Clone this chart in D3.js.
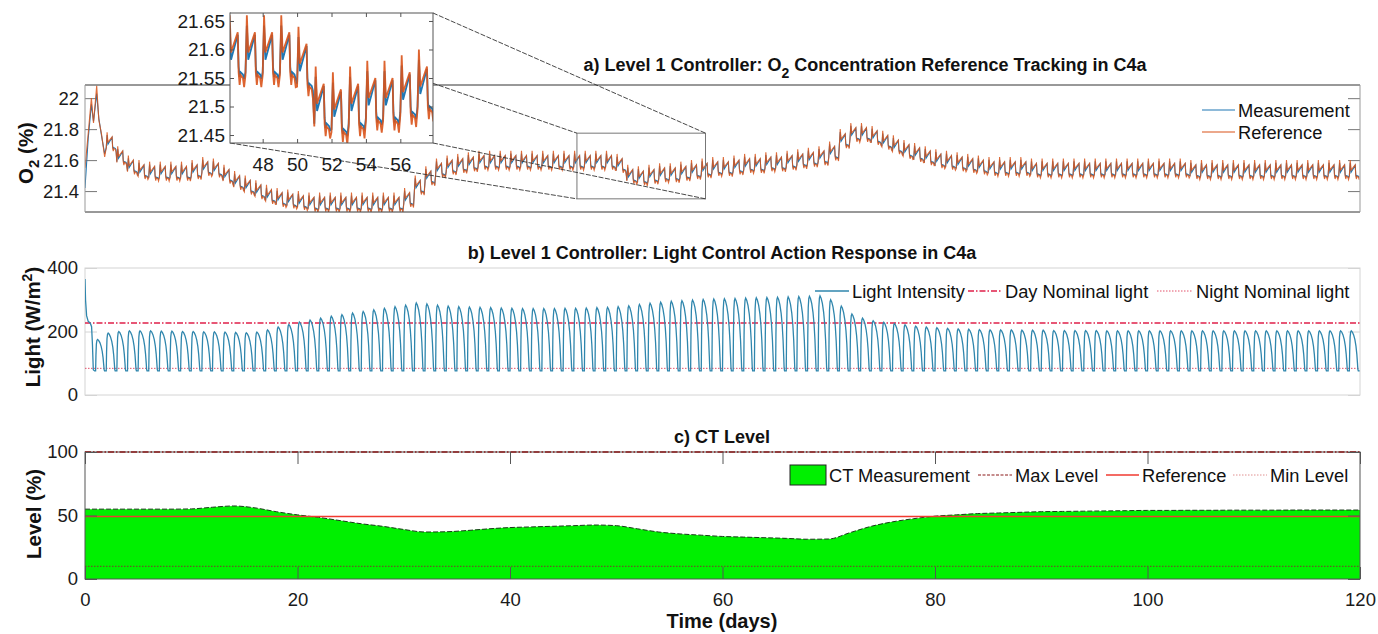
<!DOCTYPE html>
<html><head><meta charset="utf-8">
<script src="https://cdn.jsdelivr.net/npm/d3@7"></script>
<style>
body{margin:0;background:#fff;}
svg{display:block;font-family:"Liberation Sans",Arial,sans-serif;}
</style>
</head><body>
<svg id="chart" width="1378" height="634"></svg>
<script>
// ---------------- DATA ----------------
// Panel a: O2 concentration (%). Early transient (days 0-2), then daily pattern around a daily level.
const o2EarlyTime = [0, 0.3, 0.6, 0.8, 1.1, 1.3, 1.55, 1.85, 2.0];
const o2EarlyRef  = [21.55, 21.77, 22.00, 21.84, 22.08, 21.86, 21.77, 21.62, 21.68];
const o2EarlyMeas = [21.42, 21.74, 21.96, 21.85, 22.03, 21.87, 21.76, 21.64, 21.68];
const o2FirstDay = 2;
const o2DailyLevel = [
  21.72, 21.63, 21.57, 21.54, 21.53, 21.53, 21.53, 21.53, 21.54, 21.56,
  21.55, 21.51, 21.47, 21.44, 21.41, 21.38, 21.36, 21.35, 21.34, 21.33,
  21.33, 21.33, 21.33, 21.33, 21.33, 21.33, 21.33, 21.33, 21.36, 21.44,
  21.50, 21.55, 21.57, 21.58, 21.59, 21.60, 21.60, 21.60, 21.60, 21.60,
  21.60, 21.60, 21.60, 21.60, 21.60, 21.60, 21.60, 21.60, 21.58, 21.51,
  21.50, 21.51, 21.52, 21.52, 21.53, 21.54, 21.55, 21.56, 21.56, 21.57,
  21.58, 21.58, 21.59, 21.59, 21.60, 21.61, 21.62, 21.63, 21.66, 21.74,
  21.78, 21.78, 21.76, 21.73, 21.70, 21.67, 21.65, 21.63, 21.61, 21.60,
  21.59, 21.58, 21.57, 21.56, 21.56, 21.56, 21.56, 21.55, 21.55, 21.55,
  21.55, 21.55, 21.55, 21.55, 21.55, 21.55, 21.55, 21.55, 21.55, 21.55,
  21.55, 21.55, 21.54, 21.54, 21.54, 21.54, 21.54, 21.54, 21.54, 21.54,
  21.54, 21.54, 21.54, 21.54, 21.54, 21.54, 21.54, 21.54
];
// one day of the O2 pattern (phase within the day, offset from the daily level)
const o2CyclePhase = [0.00, 0.08, 0.16, 0.55, 0.60, 0.66, 0.72, 0.85, 0.92];
const o2CycleRef   = [-0.045, 0.060, -0.005, 0.030, -0.040, -0.062, -0.045, -0.050, -0.066];
const o2CycleMeas  = [-0.040, 0.042, -0.018, 0.026, -0.030, -0.048, -0.040, -0.044, -0.052];
const o2Ticks = [21.4, 21.6, 21.8, 22];
const o2InsetYTicks = [21.45, 21.5, 21.55, 21.6, 21.65];
const o2InsetXTicks = [48, 50, 52, 54, 56];

// Panel b: light intensity (W/m2)
const lightEarlyTime = [0, 0.05, 0.15, 0.3, 0.5, 0.62, 0.7, 0.78, 0.9, 1.0];
const lightEarly     = [365, 300, 250, 232, 226, 215, 160, 80, 76, 76];
const lightFirstDay = 1;
const lightDailyPeak = [
  175, 195, 200, 202, 202, 202, 201, 201, 200, 200, 199, 199, 198, 197, 196, 198,
  205, 214, 222, 230, 236, 242, 248, 253, 258, 263, 268, 273, 278, 283, 290,
  287, 283, 280, 278, 277, 276, 275, 274, 273, 272, 272, 272, 272, 273, 273, 274, 275, 276,
  278, 281, 285, 289, 292, 295, 297, 299, 301, 302, 303, 304, 305, 306, 307, 308, 309, 310, 311, 312,
  300, 280, 255, 242, 234, 229, 225, 221, 217, 214, 212, 210, 208, 207, 206, 205,
  205, 205, 204, 204, 204, 203, 203, 203, 203, 203, 202, 202, 202, 202, 202, 202, 202, 202,
  202, 202, 202, 202, 202, 202, 202, 202, 202, 202, 202, 202, 202, 202, 202, 202
];
const lightNightMin = 76;
const lightCyclePhase = [0.00, 0.03, 0.07, 0.12, 0.18, 0.28, 0.40, 0.52, 0.62, 0.70, 0.76, 0.80, 0.84, 0.97];
const lightCycleShape = [0.00, 0.50, 0.85, 0.97, 1.00, 0.97, 0.90, 0.78, 0.62, 0.42, 0.20, 0.04, 0.00, 0.00];
const dayNominalLight = 227;
const nightNominalLight = 84;
const lightTicks = [0, 200, 400];

// Panel c: CT level (%)
const ctDays = [0,2,4,6,8,10,12,14,16,18,20,22,24,26,28,30,32,34,36,38,40,42,44,46,48,50,52,54,56,58,
  60,62,64,66,68,70,72,74,76,78,80,82,84,86,88,90,92,94,96,98,100,102,104,106,108,110,112,114,116,118,120];
const ctLevel = [55,55,55,55,55,55.2,56.5,57.5,56,53,50.5,48.5,46,43.5,41.5,39,37,37.2,38.2,39.5,
  40.5,41,41.5,42,42.5,42,39.5,37,35.5,34.5,33.5,33,32.5,32,31.3,31.5,36.5,41.5,45,47.5,
  49.5,50.5,51.5,52,52.5,53,53.2,53.4,53.6,53.8,54,54,54.1,54.1,54.2,54.2,54.2,54.3,54.3,54.3,54.3];
const ctMax = 100, ctRef = 50, ctMin = 10;
const levelTicks = [0, 50, 100];
const timeTicks = [0, 20, 40, 60, 80, 100, 120];

// ---------------- BUILD SERIES ----------------
function buildO2(early, cycle) {
  const pts = o2EarlyTime.map((t, i) => ({t, v: early[i]}));
  o2DailyLevel.forEach((lv, i) => {
    const d = o2FirstDay + i;
    o2CyclePhase.forEach((p, j) => pts.push({t: d + p, v: lv + cycle[j]}));
  });
  return pts;
}
const o2Ref = buildO2(o2EarlyRef, o2CycleRef);
const o2Meas = buildO2(o2EarlyMeas, o2CycleMeas);

const lightSeries = lightEarlyTime.map((t, i) => ({t, v: lightEarly[i]}));
lightDailyPeak.forEach((pk, i) => {
  const d = lightFirstDay + i;
  lightCyclePhase.forEach((p, j) => lightSeries.push({t: d + p, v: lightNightMin + lightCycleShape[j] * (pk - lightNightMin)}));
});
const ctSeries = ctDays.map((t, i) => ({t, v: ctLevel[i]}));

// ---------------- LAYOUT ----------------
const svg = d3.select('#chart');
const X0 = 85, X1 = 1360;
const x = d3.scaleLinear().domain([0, 120]).range([X0, X1]);
const A = {top: 85, bot: 212}, B = {top: 268, bot: 395}, C = {top: 452, bot: 579};
const ya = d3.scaleLinear().domain([21.265, 22.085]).range([A.bot, A.top]);
const yb = d3.scaleLinear().domain([0, 400]).range([B.bot, B.top]);
const yc = d3.scaleLinear().domain([0, 100]).range([C.bot, C.top]);
const BLUE = '#1f77b4', ORANGE = '#d95319', LIGHT = '#2f86ad';
const TICK = 18.5, LEG = 18.3, TITLE = '18px', YLAB = '20.5px';

const defs = svg.append('defs');
function clip(id, x0, y0, w, h) {
  defs.append('clipPath').attr('id', id).append('rect').attr('x', x0).attr('y', y0).attr('width', w).attr('height', h);
}
clip('ca', X0, A.top, X1 - X0, A.bot - A.top);
clip('cb', X0, B.top, X1 - X0, B.bot - B.top);
clip('cc', X0, C.top, X1 - X0, C.bot - C.top);

function styleAxis(g, color, fs) {
  g.select('.domain').remove();
  g.selectAll('.tick line').attr('stroke', color).attr('stroke-width', 1);
  g.selectAll('.tick text').attr('fill', '#1a1a1a').style('font-size', (fs || TICK) + 'px').style('font-family', '"Liberation Sans",Arial,sans-serif');
}

// ---------------- PANEL A ----------------
const line = (xs, ys) => d3.line().x(d => xs(d.t)).y(d => ys(d.v));
const ga = svg.append('g');
ga.append('g').attr('transform', `translate(${X0},0)`)
  .call(d3.axisLeft(ya).tickValues(o2Ticks).tickSize(-12).tickPadding(6).tickFormat(d3.format('~g')))
  .call(g => styleAxis(g, '#777'));
ga.append('g').attr('transform', `translate(${X1},0)`)
  .call(d3.axisRight(ya).tickValues(o2Ticks).tickSize(-12).tickFormat(''))
  .call(g => styleAxis(g, '#777'));
const pa = ga.append('g').attr('clip-path', 'url(#ca)');
pa.append('path').datum(o2Meas).attr('d', line(x, ya)).attr('fill', 'none').attr('stroke', BLUE).attr('stroke-width', 1.1);
pa.append('path').datum(o2Ref).attr('d', line(x, ya)).attr('fill', 'none').attr('stroke', ORANGE).attr('stroke-width', 1.1).attr('stroke-opacity', 0.85);
ga.append('line').attr('x1', X0).attr('x2', X1).attr('y1', A.top).attr('y2', A.top).attr('stroke', '#333');
ga.append('line').attr('x1', X0).attr('x2', X1).attr('y1', A.bot).attr('y2', A.bot).attr('stroke', '#333');
ga.append('line').attr('x1', X0).attr('x2', X0).attr('y1', A.top).attr('y2', A.bot).attr('stroke', '#999');
ga.append('line').attr('x1', X1).attr('x2', X1).attr('y1', A.top).attr('y2', A.bot).attr('stroke', '#999');

// zoom rectangle + inset
const zoomX = [46.3, 58.4], zoomY = [21.35, 21.774];
const insetX = [46.1, 57.9], insetY = [21.436, 21.664];
const IN = {l: 230, r: 433, t: 13, b: 143};
const xi = d3.scaleLinear().domain(insetX).range([IN.l, IN.r]);
const yi = d3.scaleLinear().domain(insetY).range([IN.b, IN.t]);
const zr = {l: x(zoomX[0]), r: x(zoomX[1]), t: ya(zoomY[1]), b: ya(zoomY[0])};
svg.append('rect').attr('x', zr.l).attr('y', zr.t).attr('width', zr.r - zr.l).attr('height', zr.b - zr.t)
  .attr('fill', 'none').attr('stroke', '#777').attr('stroke-width', 1);
[[IN.l, IN.t, zr.l, zr.t], [IN.r, IN.t, zr.r, zr.t], [IN.l, IN.b, zr.l, zr.b], [IN.r, IN.b, zr.r, zr.b]].forEach(c => {
  svg.append('line').attr('x1', c[0]).attr('y1', c[1]).attr('x2', c[2]).attr('y2', c[3])
    .attr('stroke', '#333').attr('stroke-width', 0.9).attr('stroke-dasharray', '5,1.5');
});
const gi = svg.append('g');
gi.append('rect').attr('x', IN.l).attr('y', IN.t).attr('width', IN.r - IN.l).attr('height', IN.b - IN.t).attr('fill', '#fff');
clip('ci', IN.l, IN.t, IN.r - IN.l, IN.b - IN.t);
const pi = gi.append('g').attr('clip-path', 'url(#ci)');
pi.append('path').datum(o2Meas).attr('d', line(xi, yi)).attr('fill', 'none').attr('stroke', BLUE).attr('stroke-width', 1.8);
pi.append('path').datum(o2Ref).attr('d', line(xi, yi)).attr('fill', 'none').attr('stroke', ORANGE).attr('stroke-width', 1.8).attr('stroke-opacity', 0.9);
gi.append('g').attr('transform', `translate(${IN.l},0)`)
  .call(d3.axisLeft(yi).tickValues(o2InsetYTicks).tickSize(-4).tickPadding(5).tickFormat(d3.format('~g')))
  .call(g => styleAxis(g, '#555', 19));
gi.append('g').attr('transform', `translate(${IN.r},0)`)
  .call(d3.axisRight(yi).tickValues(o2InsetYTicks).tickSize(-4).tickFormat(''))
  .call(g => styleAxis(g, '#555'));
gi.append('g').attr('transform', `translate(0,${IN.b})`)
  .call(d3.axisBottom(xi).tickValues(o2InsetXTicks).tickSize(-4).tickPadding(15))
  .call(g => styleAxis(g, '#555', 19));
gi.append('g').attr('transform', `translate(0,${IN.t})`)
  .call(d3.axisTop(xi).tickValues(o2InsetXTicks).tickSize(-4).tickFormat(''))
  .call(g => styleAxis(g, '#555'));
gi.append('rect').attr('x', IN.l).attr('y', IN.t).attr('width', IN.r - IN.l).attr('height', IN.b - IN.t)
  .attr('fill', 'none').attr('stroke', '#555').attr('stroke-width', 1);

// title a
const ta = svg.append('text').attr('x', 865).attr('y', 71).attr('text-anchor', 'middle')
  .style('font-weight', 'bold').style('font-size', TITLE).attr('fill', '#111');
ta.append('tspan').text('a) Level 1 Controller: O');
ta.append('tspan').attr('dy', 7).style('font-size', '14px').text('2');
ta.append('tspan').attr('dy', -7).text(' Concentration Reference Tracking in C4a');

// legend a
const legA = [{label: 'Measurement', color: BLUE}, {label: 'Reference', color: ORANGE}];
legA.forEach((d, i) => {
  const yy = 110 + i * 22;
  svg.append('line').attr('x1', 1202).attr('x2', 1235).attr('y1', yy).attr('y2', yy).attr('stroke', d.color).attr('stroke-width', 1.2);
  svg.append('text').attr('x', 1238).attr('y', yy + 6.5).style('font-size', LEG + 'px').attr('fill', '#111').text(d.label);
});

// ylabel a
const yla = svg.append('text').attr('transform', 'translate(33,153) rotate(-90)').attr('text-anchor', 'middle')
  .style('font-weight', 'bold').style('font-size', YLAB).attr('fill', '#111');
yla.append('tspan').text('O');
yla.append('tspan').attr('dy', 6).style('font-size', '15px').text('2');
yla.append('tspan').attr('dy', -6).text(' (%)');

// ---------------- PANEL B ----------------
const gb = svg.append('g');
gb.append('rect').attr('x', X0).attr('y', B.top).attr('width', X1 - X0).attr('height', B.bot - B.top)
  .attr('fill', 'none').attr('stroke', '#d4d4d4').attr('stroke-width', 1);
gb.append('g').attr('transform', `translate(${X0},0)`)
  .call(d3.axisLeft(yb).tickValues(lightTicks).tickSize(-12).tickPadding(7))
  .call(g => styleAxis(g, '#d4d4d4'));
gb.append('g').attr('transform', `translate(${X1},0)`)
  .call(d3.axisRight(yb).tickValues(lightTicks).tickSize(-12).tickFormat(''))
  .call(g => styleAxis(g, '#d4d4d4'));
const pb = gb.append('g').attr('clip-path', 'url(#cb)');
pb.append('line').attr('x1', X0).attr('x2', X1).attr('y1', yb(dayNominalLight)).attr('y2', yb(dayNominalLight))
  .attr('stroke', '#e0204a').attr('stroke-width', 1.4).attr('stroke-dasharray', '6,2,1.5,2');
pb.append('line').attr('x1', X0).attr('x2', X1).attr('y1', yb(nightNominalLight)).attr('y2', yb(nightNominalLight))
  .attr('stroke', '#e2506a').attr('stroke-width', 1).attr('stroke-dasharray', '1.5,1.5');
pb.append('path').datum(lightSeries).attr('d', line(x, yb)).attr('fill', 'none').attr('stroke', LIGHT).attr('stroke-width', 1.3);

svg.append('text').attr('x', 722).attr('y', 259).attr('text-anchor', 'middle')
  .style('font-weight', 'bold').style('font-size', TITLE).attr('fill', '#111')
  .text('b) Level 1 Controller: Light Control Action Response in C4a');

const legB = [
  {label: 'Light Intensity', color: LIGHT, dash: null, w: 1.3, x1: 815, x2: 849, tx: 852},
  {label: 'Day Nominal light', color: '#e0204a', dash: '6,2,1.5,2', w: 1.3, x1: 968, x2: 1002, tx: 1005},
  {label: 'Night Nominal light', color: '#e2506a', dash: '1.5,1.5', w: 1, x1: 1157, x2: 1193, tx: 1196}
];
legB.forEach(d => {
  svg.append('line').attr('x1', d.x1).attr('x2', d.x2).attr('y1', 291).attr('y2', 291).attr('stroke', d.color)
    .attr('stroke-width', d.w).attr('stroke-dasharray', d.dash);
  svg.append('text').attr('x', d.tx).attr('y', 297.5).style('font-size', LEG + 'px').attr('fill', '#111').text(d.label);
});

const ylb = svg.append('text').attr('transform', 'translate(40,327) rotate(-90)').attr('text-anchor', 'middle')
  .style('font-weight', 'bold').style('font-size', YLAB).attr('fill', '#111');
ylb.append('tspan').text('Light (W/m');
ylb.append('tspan').attr('dy', -8).style('font-size', '14px').text('2');
ylb.append('tspan').attr('dy', 8).text(')');

// ---------------- PANEL C ----------------
const gc = svg.append('g');
const pc = gc.append('g').attr('clip-path', 'url(#cc)');
pc.append('path').datum(ctSeries)
  .attr('d', d3.area().x(d => x(d.t)).y0(yc(0)).y1(d => yc(d.v)).curve(d3.curveMonotoneX))
  .attr('fill', '#00f000');
pc.append('path').datum(ctSeries)
  .attr('d', d3.line().x(d => x(d.t)).y(d => yc(d.v)).curve(d3.curveMonotoneX))
  .attr('fill', 'none').attr('stroke', '#1a3a1a').attr('stroke-width', 1).attr('stroke-dasharray', '5,2');
pc.append('line').attr('x1', X0).attr('x2', X1).attr('y1', Math.round(yc(ctRef)) + 0.5).attr('y2', Math.round(yc(ctRef)) + 0.5)
  .attr('stroke', '#f03a30').attr('stroke-width', 1.5);
pc.append('line').attr('x1', X0).attr('x2', X1).attr('y1', yc(ctMin)).attr('y2', yc(ctMin)).attr('stroke', '#7a3a30').attr('stroke-width', 1).attr('stroke-dasharray', '1.5,1.5');
gc.append('rect').attr('x', X0).attr('y', C.top).attr('width', X1 - X0).attr('height', C.bot - C.top)
  .attr('fill', 'none').attr('stroke', '#555').attr('stroke-width', 1);
gc.append('line').attr('x1', X0).attr('x2', X1).attr('y1', yc(ctMax)).attr('y2', yc(ctMax)).attr('stroke', '#8b1a1a').attr('stroke-width', 1.3).attr('stroke-dasharray', '6,2,1.5,2');
gc.append('g').attr('transform', `translate(${X0},0)`)
  .call(d3.axisLeft(yc).tickValues(levelTicks).tickSize(-12).tickPadding(7))
  .call(g => styleAxis(g, '#555'));
gc.append('g').attr('transform', `translate(${X1},0)`)
  .call(d3.axisRight(yc).tickValues(levelTicks).tickSize(-12).tickFormat(''))
  .call(g => styleAxis(g, '#555'));
gc.append('g').attr('transform', `translate(0,${C.bot})`)
  .call(d3.axisBottom(x).tickValues(timeTicks).tickSize(-12).tickPadding(14))
  .call(g => styleAxis(g, '#555'));
gc.append('g').attr('transform', `translate(0,${C.top})`)
  .call(d3.axisTop(x).tickValues(timeTicks).tickSize(-12).tickFormat(''))
  .call(g => styleAxis(g, '#555'));

svg.append('text').attr('x', 722).attr('y', 443).attr('text-anchor', 'middle')
  .style('font-weight', 'bold').style('font-size', TITLE).attr('fill', '#111').text('c) CT Level');

// legend c
svg.append('rect').attr('x', 790).attr('y', 465).attr('width', 36).attr('height', 20).attr('fill', '#00f000').attr('stroke', '#222').attr('stroke-width', 1);
svg.append('text').attr('x', 829).attr('y', 481.5).style('font-size', LEG + 'px').attr('fill', '#111').text('CT Measurement');
const legC = [
  {label: 'Max Level', color: '#8b1a1a', dash: '3,1.5', w: 1.2, x1: 978, x2: 1012, tx: 1015},
  {label: 'Reference', color: '#f03a30', dash: null, w: 1.5, x1: 1106, x2: 1139, tx: 1142},
  {label: 'Min Level', color: '#e09090', dash: '1.5,1.5', w: 1, x1: 1233, x2: 1267, tx: 1270}
];
legC.forEach(d => {
  svg.append('line').attr('x1', d.x1).attr('x2', d.x2).attr('y1', 475).attr('y2', 475).attr('stroke', d.color)
    .attr('stroke-width', d.w).attr('stroke-dasharray', d.dash);
  svg.append('text').attr('x', d.tx).attr('y', 481.5).style('font-size', LEG + 'px').attr('fill', '#111').text(d.label);
});

svg.append('text').attr('transform', 'translate(41,514) rotate(-90)').attr('text-anchor', 'middle')
  .style('font-weight', 'bold').style('font-size', YLAB).attr('fill', '#111').text('Level (%)');

svg.append('text').attr('x', 722).attr('y', 628).attr('text-anchor', 'middle')
  .style('font-weight', 'bold').style('font-size', '20px').attr('fill', '#111').text('Time (days)');
</script>
</body></html>
